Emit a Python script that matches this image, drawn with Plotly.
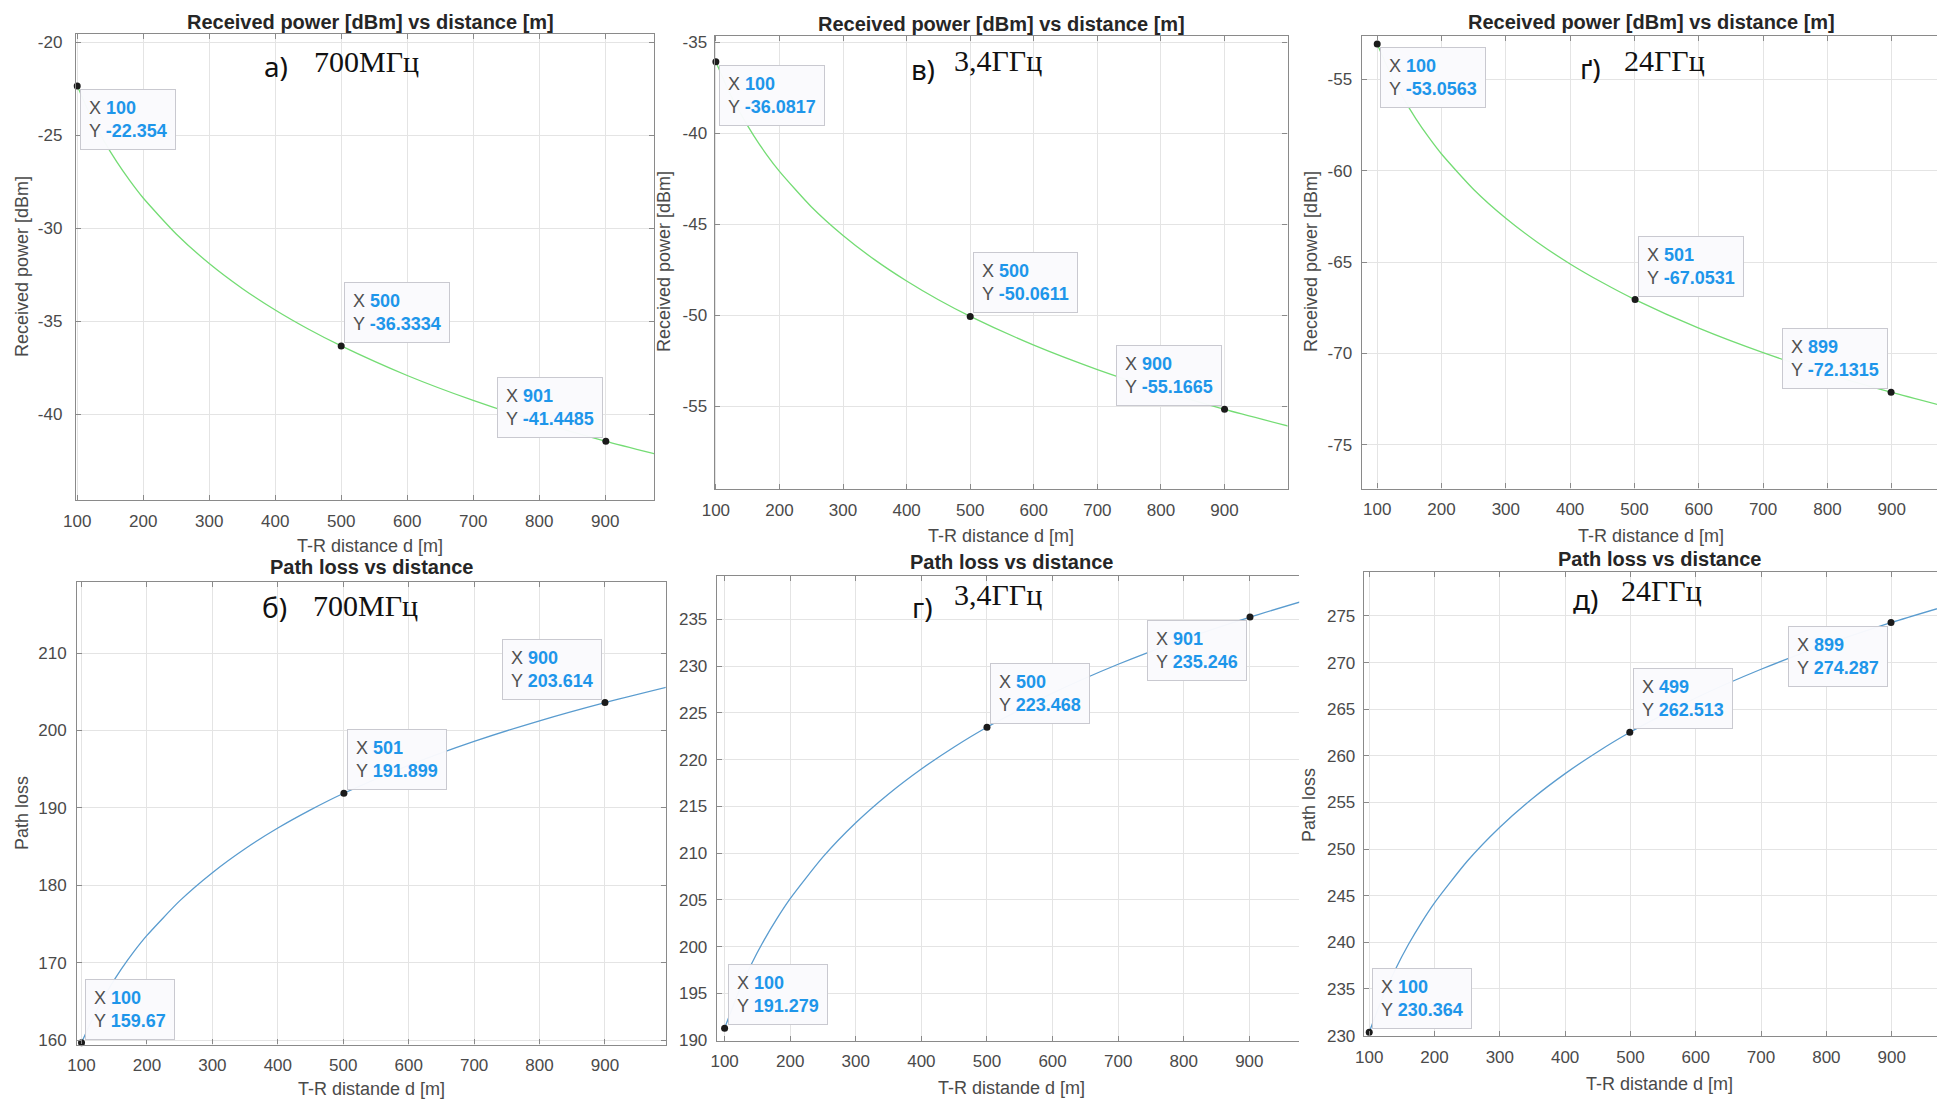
import plotly.graph_objects as go

W, H = 1937, 1101

# ---------------- data ----------------
distance_m = [100, 120, 140, 160, 180, 200, 250, 300, 350, 400, 450, 500, 600, 700, 800, 900, 1000]

rx_power_700mhz = [-22.35, -23.94, -25.28, -26.44, -27.46, -28.38, -30.31, -31.90, -33.24,
                   -34.40, -35.42, -36.33, -37.92, -39.26, -40.42, -41.44, -42.35]
rx_power_3400mhz = [-36.08, -37.67, -39.00, -40.16, -41.19, -42.10, -44.04, -45.62, -46.96,
                    -48.12, -49.15, -50.06, -51.64, -52.98, -54.14, -55.17, -56.08]
rx_power_24ghz = [-53.06, -54.64, -55.98, -57.14, -58.16, -59.08, -61.02, -62.60, -63.94,
                  -65.10, -66.12, -67.04, -68.62, -69.96, -71.12, -72.14, -73.06]
path_loss_700mhz = [159.67, 163.32, 166.40, 169.07, 171.43, 173.53, 177.99, 181.64, 184.73,
                    187.40, 189.75, 191.86, 195.50, 198.59, 201.26, 203.61, 205.72]
path_loss_3400mhz = [191.28, 194.93, 198.01, 200.68, 203.03, 205.14, 209.60, 213.25, 216.33,
                     219.00, 221.36, 223.47, 227.11, 230.20, 232.87, 235.22, 237.33]
path_loss_24ghz = [230.36, 234.01, 237.09, 239.76, 242.12, 244.23, 248.69, 252.34, 255.42,
                   258.09, 260.44, 262.55, 266.20, 269.28, 271.95, 274.31, 276.41]

# data tips
tip_x_rx_700 = [100, 500, 901]
tip_y_rx_700 = [-22.354, -36.3334, -41.4485]
tip_x_rx_3400 = [100, 500, 900]
tip_y_rx_3400 = [-36.0817, -50.0611, -55.1665]
tip_x_rx_24g = [100, 501, 899]
tip_y_rx_24g = [-53.0563, -67.0531, -72.1315]
tip_x_pl_700 = [100, 501, 900]
tip_y_pl_700 = [159.67, 191.899, 203.614]
tip_x_pl_3400 = [100, 500, 901]
tip_y_pl_3400 = [191.279, 223.468, 235.246]
tip_x_pl_24g = [100, 499, 899]
tip_y_pl_24g = [230.364, 262.513, 274.287]

# tick labels
x_ticks = [100, 200, 300, 400, 500, 600, 700, 800, 900]
y_ticks_rx_700 = [-40, -35, -30, -25, -20]
y_ticks_rx_3400 = [-55, -50, -45, -40, -35]
y_ticks_rx_24g = [-75, -70, -65, -60, -55]
y_ticks_pl_700 = [160, 170, 180, 190, 200, 210]
y_ticks_pl_3400 = [190, 195, 200, 205, 210, 215, 220, 225, 230, 235]
y_ticks_pl_24g = [230, 235, 240, 245, 250, 255, 260, 265, 270, 275]

title_rx = "Received power [dBm] vs distance [m]"
title_pl = "Path loss vs distance"
xlabel_rx = "T-R distance d [m]"
xlabel_pl = "T-R distande d [m]"
ylabel_rx = "Received power [dBm]"
ylabel_pl = "Path loss"
panel_letters = ["а)", "в)", "ґ)", "б)", "г)", "д)"]
panel_freqs = ["700МГц", "3,4ГГц", "24ГГц", "700МГц", "3,4ГГц", "24ГГц"]

# ---------------- styles / layout ----------------
GREEN = "#74dc74"
BLUE = "#5a9ccf"
TIPBLUE = "#1e96ea"
FRAME = "#8a8a8a"
GRID = "#e4e4e4"
TXT = "#4a4a4a"

panels = [
    dict(box=(75.9, 33.9, 654.0, 500.0), xr=(98, 974), yr=(-44.61, -19.56), yt=y_ticks_rx_700,
         curve=rx_power_700mhz, tx=tip_x_rx_700, ty=tip_y_rx_700, color=GREEN,
         place=["dr", "ur", "ul"], rframe=True, ystand=9,
         title=title_rx, tpos=(370, 22), xl=xlabel_rx, xlpos=(370, 546),
         yl=ylabel_rx, ylpos=(22, 267),
         letter_pos=(261.7, 66), freq_pos=(311.7, 62)),
    dict(box=(714.6, 35.7, 1287.5, 489.2), xr=(98, 999), yr=(-59.55, -34.65), yt=y_ticks_rx_3400,
         curve=rx_power_3400mhz, tx=tip_x_rx_3400, ty=tip_y_rx_3400, color=GREEN,
         place=["dr", "ur", "ul"], rframe=True, ystand=3,
         title=title_rx, tpos=(1001, 24), xl=xlabel_rx, xlpos=(1001, 536),
         yl=ylabel_rx, ylpos=(664, 262),
         letter_pos=(909, 69.5), freq_pos=(952, 60.5)),
    dict(box=(1361.7, 35.7, 1937.0, 488.5), xr=(75.9, 970.4), yr=(-77.4, -52.6), yt=y_ticks_rx_24g,
         curve=rx_power_24ghz, tx=tip_x_rx_24g, ty=tip_y_rx_24g, color=GREEN,
         place=["dr", "ur", "ul"], rframe=False, ystand=5,
         title=title_rx, tpos=(1651, 22), xl=xlabel_rx, xlpos=(1651, 536),
         yl=ylabel_rx, ylpos=(1311, 262),
         letter_pos=(1577.5, 68.5), freq_pos=(1621.5, 60.7)),
    dict(box=(77.2, 582.2, 665.7, 1044.5), xr=(93.4, 992.8), yr=(159.44, 219.16), yt=y_ticks_pl_700,
         curve=path_loss_700mhz, tx=tip_x_pl_700, ty=tip_y_pl_700, color=BLUE,
         place=["ur", "ur", "ul"], rframe=True, ystand=6,
         title=title_pl, tpos=(371.5, 567), xl=xlabel_pl, xlpos=(371.5, 1089),
         yl=ylabel_pl, ylpos=(22, 813),
         letter_pos=(260, 607), freq_pos=(311.4, 605)),
    dict(box=(716.8, 575.8, 1299.2, 1040.9), xr=(88.1, 976), yr=(189.93, 239.66), yt=y_ticks_pl_3400,
         curve=path_loss_3400mhz, tx=tip_x_pl_3400, ty=tip_y_pl_3400, color=BLUE,
         place=["ur", "ur", "dl"], rframe=False, ystand=5,
         title=title_pl, tpos=(1011, 562), xl=xlabel_pl, xlpos=(1011, 1088),
         yl=None, ylpos=None,
         letter_pos=(909.8, 607), freq_pos=(952, 594.5)),
    dict(box=(1363.8, 572.2, 1937.0, 1036.3), xr=(91.7, 969.4), yr=(229.92, 279.69), yt=y_ticks_pl_24g,
         curve=path_loss_24ghz, tx=tip_x_pl_24g, ty=tip_y_pl_24g, color=BLUE,
         place=["ur", "ur", "dl"], rframe=False, ystand=4,
         title=title_pl, tpos=(1659, 559), xl=xlabel_pl, xlpos=(1659, 1084),
         yl=ylabel_pl, ylpos=(1309, 805),
         letter_pos=(1571, 599), freq_pos=(1618.6, 590.5)),
]


def px(x):
    return min(x / W, 1.0)


def py(y):
    return 1 - y / H


def tip_text(xv, yv):
    return (f"X <b><span style='color:{TIPBLUE}'>{xv:g}</span></b><br>"
            f"Y <b><span style='color:{TIPBLUE}'>{yv:g}</span></b>")


fig = go.Figure()
annotations = []
layout_axes = {}

for i, p in enumerate(panels):
    n = i + 1
    xa = "x" if n == 1 else f"x{n}"
    ya = "y" if n == 1 else f"y{n}"
    xname = "xaxis" if n == 1 else f"xaxis{n}"
    yname = "yaxis" if n == 1 else f"yaxis{n}"
    l, t, r, b = p["box"]

    fig.add_trace(go.Scatter(
        x=distance_m, y=p["curve"], mode="lines",
        line=dict(color=p["color"], width=1.3, shape="spline", smoothing=0.6),
        xaxis=xa, yaxis=ya, hoverinfo="skip", showlegend=False))
    fig.add_trace(go.Scatter(
        x=p["tx"], y=p["ty"], mode="markers",
        marker=dict(size=7, color="#1b1b1b"),
        xaxis=xa, yaxis=ya, cliponaxis=False, hoverinfo="skip", showlegend=False))

    common = dict(showline=True, linecolor=FRAME, linewidth=1.2, automargin=False,
                  ticks="inside", ticklen=5, tickcolor=FRAME, tickwidth=1,
                  showgrid=True, gridcolor=GRID, gridwidth=1, zeroline=False,
                  tickfont=dict(family="Arial", size=17, color=TXT))
    layout_axes[xname] = dict(domain=[px(l), px(r)], range=list(p["xr"]), anchor=ya,
                              tickmode="array", tickvals=x_ticks,
                              ticktext=[str(v) for v in x_ticks], mirror="ticks",
                              ticklabelstandoff=5, **common)
    layout_axes[yname] = dict(domain=[py(b), py(t)], range=list(p["yr"]), anchor=xa,
                              tickmode="array", tickvals=p["yt"],
                              ticktext=[str(v) for v in p["yt"]],
                              mirror="ticks" if p["rframe"] else False,
                              ticklabelstandoff=p["ystand"], **common)

    # titles and labels
    annotations.append(dict(text=f"<b>{p['title']}</b>", x=px(p["tpos"][0]), y=py(p["tpos"][1]),
                            xref="paper", yref="paper", showarrow=False,
                            xanchor="center", yanchor="middle",
                            font=dict(family="Arial", size=20, color="#262626")))
    annotations.append(dict(text=p["xl"], x=px(p["xlpos"][0]), y=py(p["xlpos"][1]),
                            xref="paper", yref="paper", showarrow=False,
                            xanchor="center", yanchor="middle",
                            font=dict(family="Arial", size=18, color=TXT)))
    if p["yl"]:
        annotations.append(dict(text=p["yl"], x=px(p["ylpos"][0]), y=py(p["ylpos"][1]),
                                xref="paper", yref="paper", showarrow=False, textangle=-90,
                                xanchor="center", yanchor="middle",
                                font=dict(family="Arial", size=18, color=TXT)))
    annotations.append(dict(text=panel_letters[i], x=px(p["letter_pos"][0]), y=py(p["letter_pos"][1]),
                            xref="paper", yref="paper", showarrow=False,
                            xanchor="left", yanchor="middle",
                            font=dict(family="Noto Sans", size=28, color="#111111")))
    annotations.append(dict(text=panel_freqs[i], x=px(p["freq_pos"][0]), y=py(p["freq_pos"][1]),
                            xref="paper", yref="paper", showarrow=False,
                            xanchor="left", yanchor="middle",
                            font=dict(family="Liberation Serif", size=30, color="#111111")))

    # data tips
    for xv, yv, where in zip(p["tx"], p["ty"], p["place"]):
        xanchor = "left" if where[1] == "r" else "right"
        yanchor = "bottom" if where[0] == "u" else "top"
        annotations.append(dict(
            text=tip_text(xv, yv), x=xv, y=yv, xref=xa, yref=ya, showarrow=False,
            xanchor=xanchor, yanchor=yanchor,
            xshift=3 if xanchor == "left" else -3,
            yshift=3 if yanchor == "bottom" else -3,
            align="left", bgcolor="rgba(250,250,253,0.97)", bordercolor="#c9c9d0",
            borderwidth=1, borderpad=8,
            font=dict(family="Arial", size=18, color="#505050")))

fig.update_layout(width=W, height=H, margin=dict(l=0, r=0, t=0, b=0, autoexpand=False),
                  paper_bgcolor="white", plot_bgcolor="white", showlegend=False,
                  annotations=annotations, **layout_axes)

fig.write_html("out.html", config={"displayModeBar": False},
               post_script="document.body.style.margin='0px';document.body.style.overflow='hidden';")
